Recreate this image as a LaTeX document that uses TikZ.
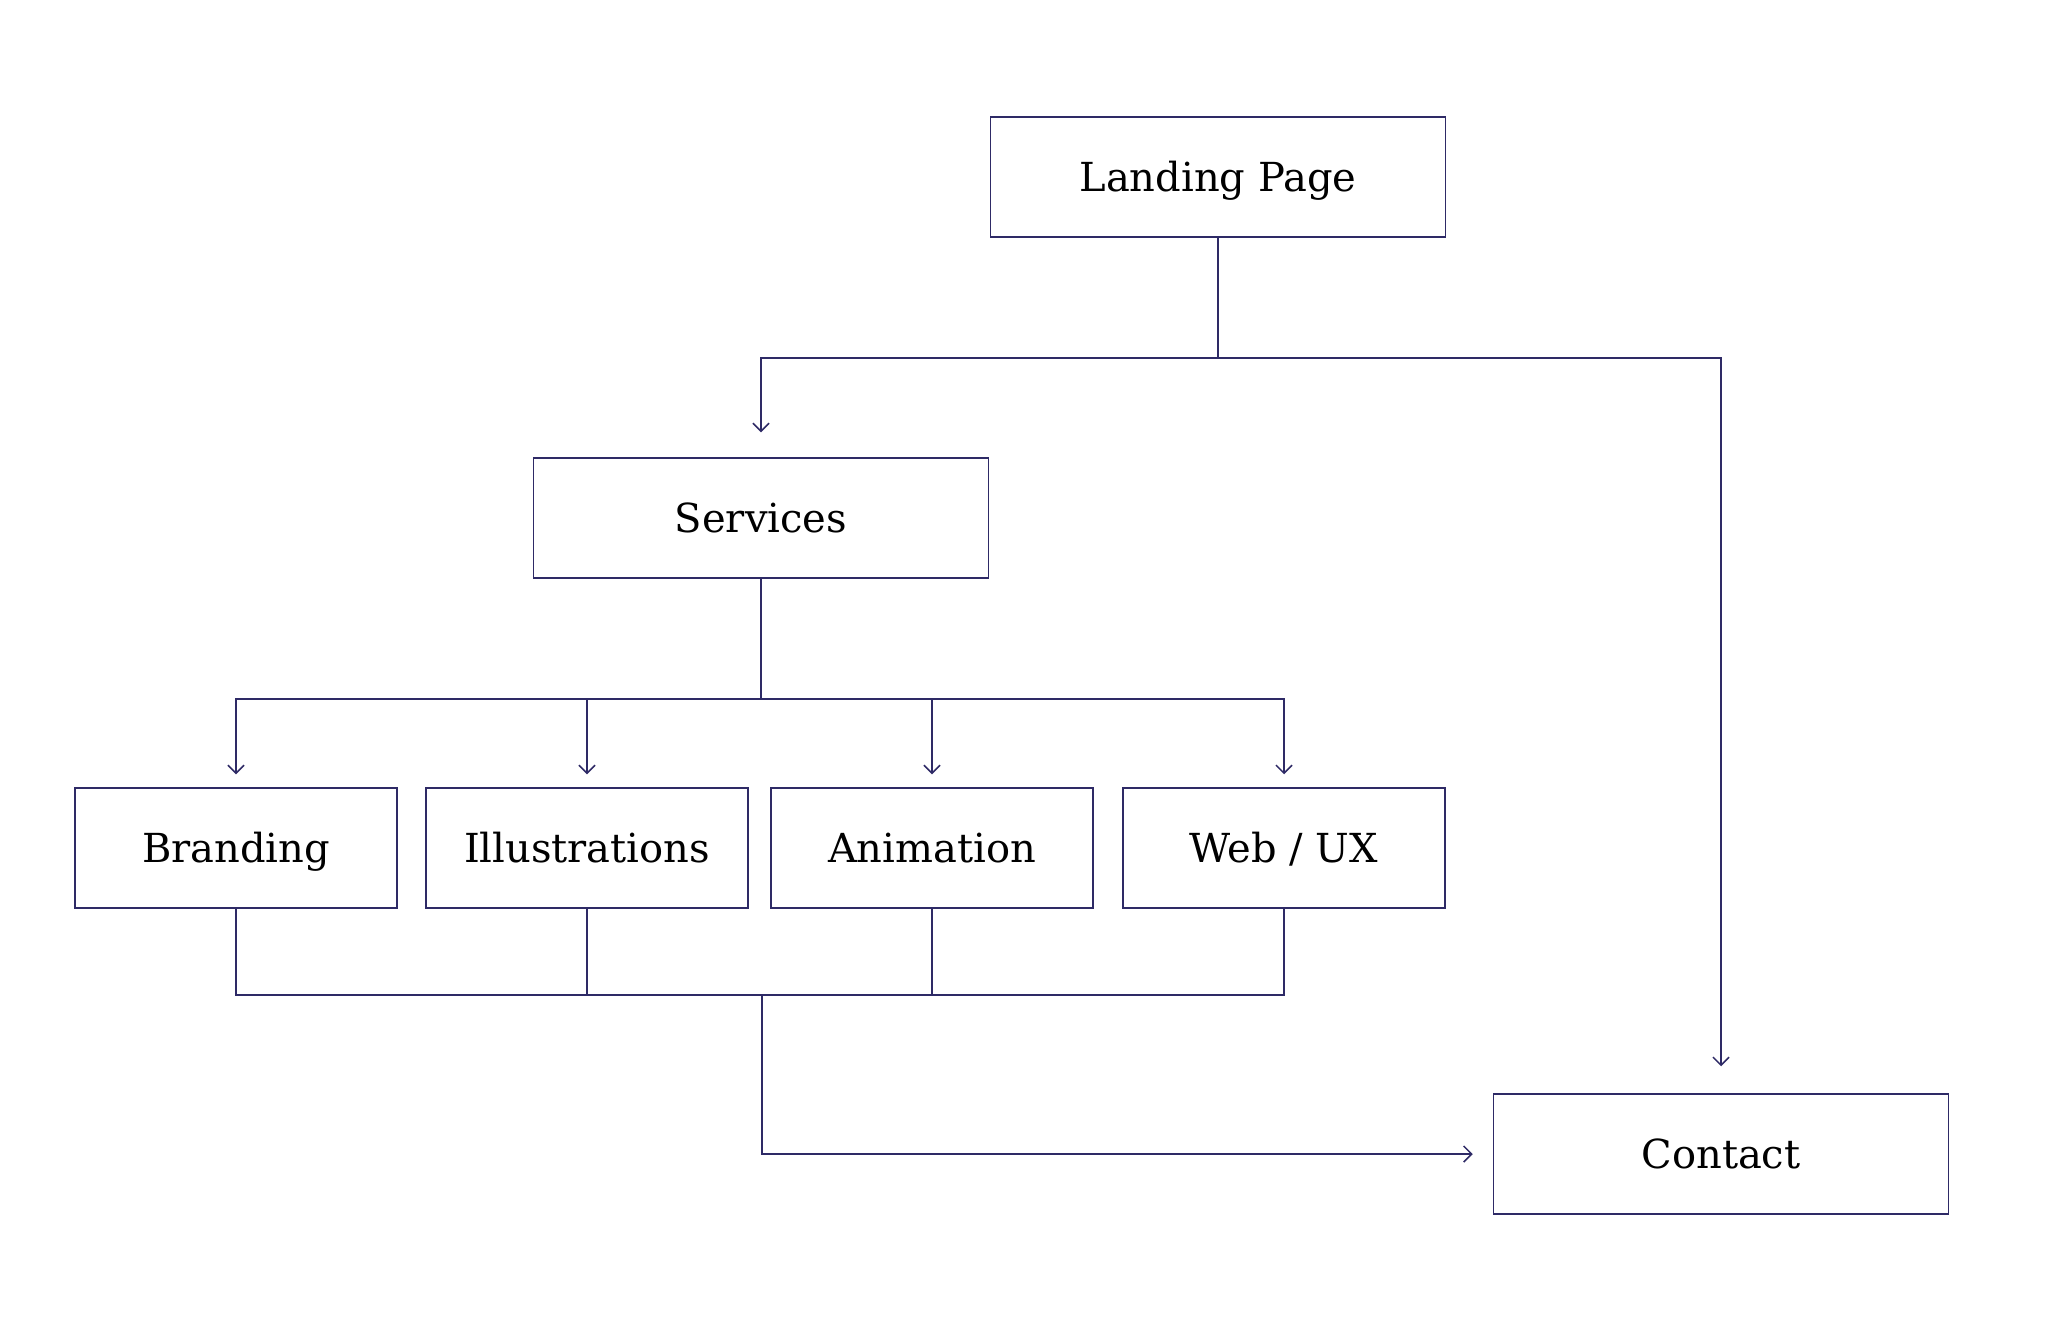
\documentclass[tikz,border=0pt]{standalone}
\usepackage{fontspec}
\setmainfont{DejaVu Serif}
\usetikzlibrary{arrows.meta}
\definecolor{navy}{RGB}{46,42,102}
\tikzset{
  box/.style={draw=navy, line width=0.75pt, minimum height=60pt, text height=14pt, text depth=0pt,
    font=\fontsize{20}{24}\selectfont},
  bigbox/.style={box, minimum width=227.5pt},
  smallbox/.style={box, minimum width=161pt},
  line/.style={draw=navy, line width=0.75pt},
  arr/.style={line, -{Straight Barb[length=4pt,width=8pt]}}
}
\begin{document}
\begin{tikzpicture}[x=0.5pt, y=-0.5pt]  % 单位: 像素

            \useasboundingbox (0,0) rectangle (2064,1330);

            % 绘制页面
            \node[bigbox] (landing) at (1218,177) {Landing Page};
            \node[bigbox] (services) at (761,518) {Services};
            \node[bigbox] (contact) at (1721,1154) {Contact};

            % 绘制服务子页面
            \node[smallbox] (branding) at (236,848) {Branding};
            \node[smallbox] (illus) at (587,848) {Illustrations};
            \node[smallbox] (anim) at (932,848) {Animation};
            \node[smallbox] (webux) at (1284,848) {Web / UX};

            % 分支点
            \coordinate (split1) at (1218,358);
            \coordinate (split2) at (761,699);
            \coordinate (join) at (762,995);

            % Landing Page 的连线
            \draw[line] (landing.south) -- (split1);
            \draw[arr, shorten >=12.5pt] (split1) -| (services.north);
            \draw[arr, shorten >=13.5pt] (split1) -| (contact.north);

            % Services 的连线
            \draw[line] (services.south) -- (split2);
            \draw[arr, shorten >=6.5pt] (split2) -| (branding.north);
            \draw[arr, shorten >=6.5pt] (split2) -| (illus.north);
            \draw[arr, shorten >=6.5pt] (split2) -| (anim.north);
            \draw[arr, shorten >=6.5pt] (split2) -| (webux.north);

            % 汇合到 Contact
            \draw[line] (branding.south) |- (join);
            \draw[line] (illus.south) |- (join);
            \draw[line] (anim.south) |- (join);
            \draw[line] (webux.south) |- (join);
            \draw[arr, shorten >=10pt] (join) |- (contact.west);

        \end{tikzpicture}
\end{document}
